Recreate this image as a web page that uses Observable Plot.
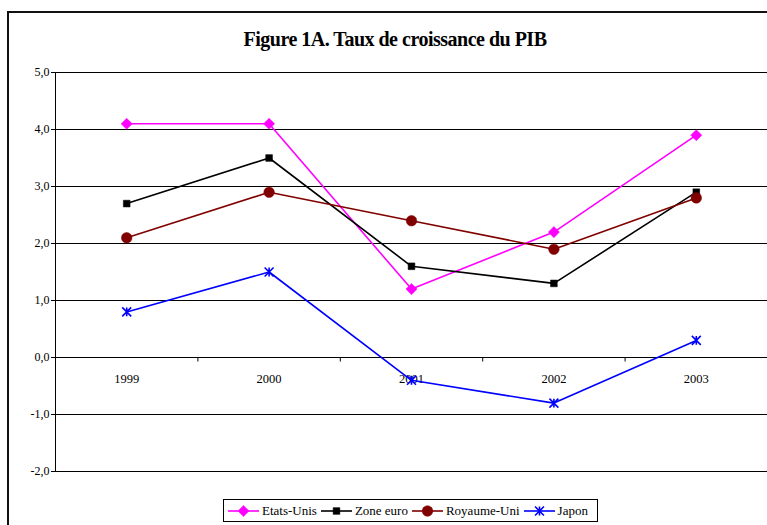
<!DOCTYPE html>
<html>
<head>
<meta charset="utf-8">
<script src="https://cdn.jsdelivr.net/npm/d3@7"></script>
<script src="https://cdn.jsdelivr.net/npm/@observablehq/plot@0.6"></script>
<style>
  html, body { margin: 0; padding: 0; background: #fff; }
  #wrap { position: relative; width: 767px; height: 525px; overflow: hidden; font-family: "Liberation Serif", "Times New Roman", serif; }
  #border { position: absolute; left: 7px; top: 11px; width: 900px; height: 700px; border: 2px solid #111; box-sizing: border-box; }
  #title { position: absolute; left: 0; top: 28px; width: 790px; text-align: center; font-weight: bold; font-size: 20px; line-height: 23px; color: #000; letter-spacing: -0.5px; }
  #chart { position: absolute; left: 0; top: 0; }
  #legend { position: absolute; left: 223px; top: 499px; width: 375px; height: 23px; border: 1px solid #000; box-sizing: border-box; display: flex; align-items: center; padding-left: 4px; font-size: 13px; color: #000; background: #fff; }
  .item { display: flex; align-items: center; margin-right: 4px; white-space: nowrap; }
  .item svg { margin-right: 3px; }
</style>
</head>
<body>
<div id="wrap">
  <div id="border"></div>
  <div id="title"></div>
  <div id="chart"></div>
  <div id="legend"></div>
</div>
<script>
const titleText = "Figure 1A. Taux de croissance du PIB";
const years = [1999, 2000, 2001, 2002, 2003];
const seriesNames = ["Etats-Unis", "Zone euro", "Royaume-Uni", "Japon"];
const etatsUnis = [4.1, 4.1, 1.2, 2.2, 3.9];
const zoneEuro = [2.7, 3.5, 1.6, 1.3, 2.9];
const royaumeUni = [2.1, 2.9, 2.4, 1.9, 2.8];
const japon = [0.8, 1.5, -0.4, -0.8, 0.3];
const yTicks = [-2, -1, 0, 1, 2, 3, 4, 5];
const colors = ["#FF00FF", "#000000", "#800000", "#0000FF"];

const excelStar = {
  draw(ctx, size) {
    const r = Math.sqrt(size) * 0.6;
    ctx.moveTo(-r, -r); ctx.lineTo(r, r);
    ctx.moveTo(-r, r); ctx.lineTo(r, -r);
    ctx.moveTo(0, -r); ctx.lineTo(0, r);
  }
};
const tickDown = {
  draw(ctx, size) { ctx.moveTo(0, 0); ctx.lineTo(0, 4); }
};

const symbols = [d3.symbolDiamond2, d3.symbolSquare, d3.symbolCircle, excelStar];
const radii = [5, 3.8, 5.3, 4.2];
const filled = [true, true, true, false];
const valuesList = [etatsUnis, zoneEuro, royaumeUni, japon];

const bounds = d3.range(years.length + 1).map(i => years[0] - 0.5 + i);
const fmt = d => d3.format(".1f")(d).replace("−", "-").replace(".", ",");

document.getElementById("title").textContent = titleText;

const FONT = "Liberation Serif, Times New Roman, serif";

const marks = [
  Plot.ruleY(yTicks, {stroke: "#000", strokeWidth: 1}),
  Plot.ruleX([bounds[0]], {y1: yTicks[0], y2: yTicks[yTicks.length - 1], stroke: "#000", strokeWidth: 1}),
  Plot.axisY({ticks: yTicks, tickSize: 4, tickPadding: 2, tickFormat: fmt, label: null, fontSize: 12, fontFamily: FONT, stroke: "#000"}),
  Plot.dot(bounds, {x: d => d, y: () => 0, symbol: tickDown, stroke: "#000", strokeWidth: 1, r: 1}),
  Plot.text(years, {x: d => d, y: () => 0, text: d => String(d), dy: 21, fontSize: 12.5, fontFamily: FONT, fill: "#000"})
];

valuesList.forEach((vals, i) => {
  const data = years.map((y, j) => ({year: y, value: vals[j]}));
  marks.push(Plot.line(data, {x: "year", y: "value", stroke: colors[i], strokeWidth: 1.6}));
  marks.push(Plot.dot(data, {
    x: "year", y: "value", symbol: () => symbols[i], r: radii[i],
    fill: filled[i] ? colors[i] : "none", stroke: colors[i], strokeWidth: filled[i] ? 0.5 : 1.6
  }));
});

const chart = Plot.plot({
  width: 767,
  height: 525,
  marginLeft: 55,
  marginRight: 0,
  marginTop: 72,
  marginBottom: 54,
  style: {fontFamily: FONT, fontSize: "12px", background: "transparent", color: "#000"},
  x: {domain: [bounds[0], bounds[bounds.length - 1]], axis: null},
  y: {domain: [yTicks[0], yTicks[yTicks.length - 1]], axis: null},
  symbol: {type: "identity"},
  marks
});
document.getElementById("chart").appendChild(chart);

// Legend
const legend = document.getElementById("legend");
seriesNames.forEach((name, i) => {
  const item = document.createElement("div");
  item.className = "item";
  const svg = d3.create("svg").attr("width", 31).attr("height", 14);
  svg.append("line").attr("x1", 0).attr("x2", 31).attr("y1", 7).attr("y2", 7).attr("stroke", colors[i]).attr("stroke-width", 1.6);
  svg.append("path")
    .attr("transform", "translate(15.5,7)")
    .attr("d", d3.symbol(symbols[i], Math.PI * radii[i] * radii[i])())
    .attr("fill", filled[i] ? colors[i] : "none")
    .attr("stroke", colors[i])
    .attr("stroke-width", filled[i] ? 0.5 : 1.6);
  item.appendChild(svg.node());
  const span = document.createElement("span");
  span.textContent = name;
  item.appendChild(span);
  legend.appendChild(item);
});
</script>
</body>
</html>
